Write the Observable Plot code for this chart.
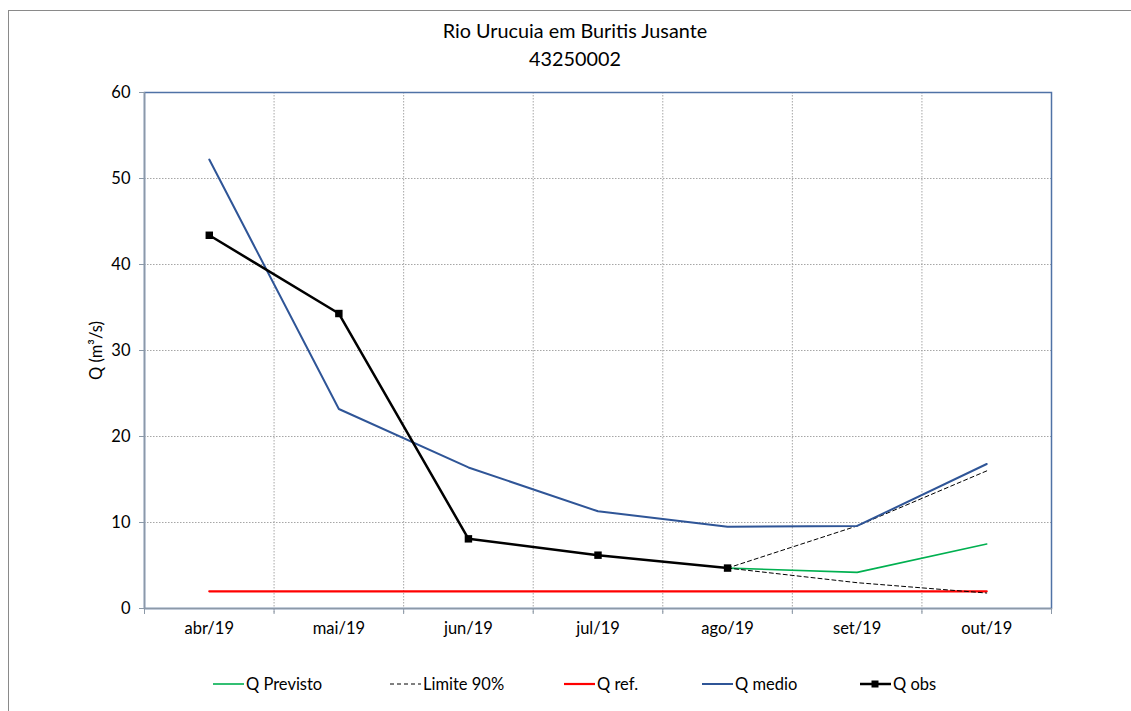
<!DOCTYPE html>
<html>
<head>
<meta charset="utf-8">
<script src="https://cdn.jsdelivr.net/npm/d3@7"></script>
<script src="https://cdn.jsdelivr.net/npm/@observablehq/plot@0.6"></script>
<style>
  html, body { margin: 0; padding: 0; background: #fff; }
  body { width: 1131px; height: 711px; position: relative; overflow: hidden; font-family: Lato, "Open Sans", sans-serif; }
  #border { position: absolute; left: 8px; top: 10px; right: 0; bottom: 0; border-left: 1px solid #8a8a8a; border-top: 1px solid #8a8a8a; }
  #title { position: absolute; left: 0; width: 1150px; top: 16px; text-align: center; font-size: 19.8px; line-height: 28px; color: #000; }
  #chart { position: absolute; left: 0; top: 72px; }
  .leg { position: absolute; top: 673px; font-size: 16.5px; color: #000; display: flex; align-items: center; height: 22px; }
  .leg svg { margin-right: 2px; }
</style>
</head>
<body>
<div id="border"></div>
<div id="title">Rio Urucuia em Buritis Jusante<br>43250002</div>
<div id="chart"></div>
<div id="legend"></div>
<script>
// ---- Data ----
const categorias = ["abr/19", "mai/19", "jun/19", "jul/19", "ago/19", "set/19", "out/19"];
const qMedio    = [52.2, 23.2, 16.4, 11.3, 9.5, 9.6, 16.8];
const qObs      = [43.4, 34.3, 8.1, 6.2, 4.7, null, null];
const qPrevisto = [null, null, null, null, 4.7, 4.2, 7.5];
const limSup    = [null, null, null, null, 4.7, 9.6, 16.0];
const limInf    = [null, null, null, null, 4.7, 3.0, 1.8];
const qRef      = [2.0, 2.0, 2.0, 2.0, 2.0, 2.0, 2.0];
const yTicks    = [0, 10, 20, 30, 40, 50, 60];

// ---- Build tables ----
const idx = categorias.map((_, i) => i);
const toRows = (arr, serie) => arr.map((v, i) => ({i, v, serie})).filter(d => d.v != null);
const medioRows = toRows(qMedio, "Q medio");
const obsRows = toRows(qObs, "Q obs");
const prevRows = toRows(qPrevisto, "Q Previsto");
const limRows = [...toRows(limSup, "sup"), ...toRows(limInf, "inf")];
const refRows = toRows(qRef, "Q ref.");
const bounds = d3.range(categorias.length + 1).map(i => i - 0.5);
const innerBounds = bounds.slice(1, -1);

const gridColor = "#a6a6a6";
const axisColor = "#8c99a8";
const frameColor = "#4f72a6";

const chart = Plot.plot({
  width: 1131,
  height: 580,
  marginLeft: 144,
  marginRight: 80,
  marginTop: 20,
  marginBottom: 44,
  style: { fontFamily: "Lato, 'Open Sans', sans-serif", fontSize: "16.5px", color: "#000", background: "transparent" },
  x: { type: "linear", domain: [-0.5, categorias.length - 0.5] },
  y: { domain: [0, 60] },
  marks: [
    Plot.gridY(yTicks.slice(1), { stroke: gridColor, strokeOpacity: 1, strokeDasharray: "1.5,1.5", strokeWidth: 1 }),
    Plot.ruleX(innerBounds, { stroke: gridColor, strokeDasharray: "1.5,1.5", strokeWidth: 1, insetBottom: -6 }),
    Plot.frame({ stroke: frameColor, strokeWidth: 1.5 }),
    Plot.ruleX([-0.5], { stroke: axisColor, strokeWidth: 1.5 }),
    Plot.ruleY([0], { stroke: axisColor, strokeWidth: 1.5 }),
    Plot.axisY({ ticks: yTicks, tickSize: 5, tickPadding: 9, stroke: axisColor, label: null, tickFormat: d => String(d) }),
    Plot.axisX({ ticks: idx, tickSize: 0, tickPadding: 14, label: null, tickFormat: i => categorias[i] }),
    Plot.axisX({ ticks: bounds, tickSize: 6, stroke: axisColor, label: null, tickFormat: () => "" }),
    Plot.text(["Q (m³/s)"], { frameAnchor: "left", textAnchor: "middle", rotate: -90, dx: -48, fontSize: 16.5 }),
    Plot.line(refRows, { x: "i", y: "v", stroke: "#ff0000", strokeWidth: 2.2 }),
    Plot.line(prevRows, { x: "i", y: "v", stroke: "#00b050", strokeWidth: 1.6 }),
    Plot.line(limRows, { x: "i", y: "v", z: "serie", stroke: "#000", strokeWidth: 1, strokeDasharray: "4,3" }),
    Plot.line(medioRows, { x: "i", y: "v", stroke: "#2f5597", strokeWidth: 2 }),
    Plot.line(obsRows, { x: "i", y: "v", stroke: "#000", strokeWidth: 2.5 }),
    Plot.dot(obsRows, { x: "i", y: "v", symbol: "square", r: 4.2, fill: "#000", stroke: "none" })
  ]
});
document.getElementById("chart").appendChild(chart);

// ---- Legend ----
const legendItems = [
  { label: "Q Previsto", color: "#00b050", dash: null, w: 1.6, marker: false, left: 213 },
  { label: "Limite 90%", color: "#000", dash: "4,3", w: 1, marker: false, left: 390 },
  { label: "Q ref.", color: "#ff0000", dash: null, w: 2.2, marker: false, left: 564 },
  { label: "Q medio", color: "#2f5597", dash: null, w: 2, marker: false, left: 702 },
  { label: "Q obs", color: "#000", dash: null, w: 2.5, marker: true, left: 860 }
];
const legend = document.getElementById("legend");
legendItems.forEach(it => {
  const div = document.createElement("div");
  div.className = "leg";
  div.style.left = it.left + "px";
  const svg = d3.create("svg").attr("width", 31).attr("height", 20);
  svg.append("line").attr("x1", 0).attr("x2", 31).attr("y1", 10).attr("y2", 10)
    .attr("stroke", it.color).attr("stroke-width", it.w).attr("stroke-dasharray", it.dash);
  if (it.marker) svg.append("rect").attr("x", 11.5).attr("y", 6.5).attr("width", 7).attr("height", 7).attr("fill", "#000");
  div.appendChild(svg.node());
  const span = document.createElement("span");
  span.textContent = it.label;
  div.appendChild(span);
  legend.appendChild(div);
});
</script>
</body>
</html>
